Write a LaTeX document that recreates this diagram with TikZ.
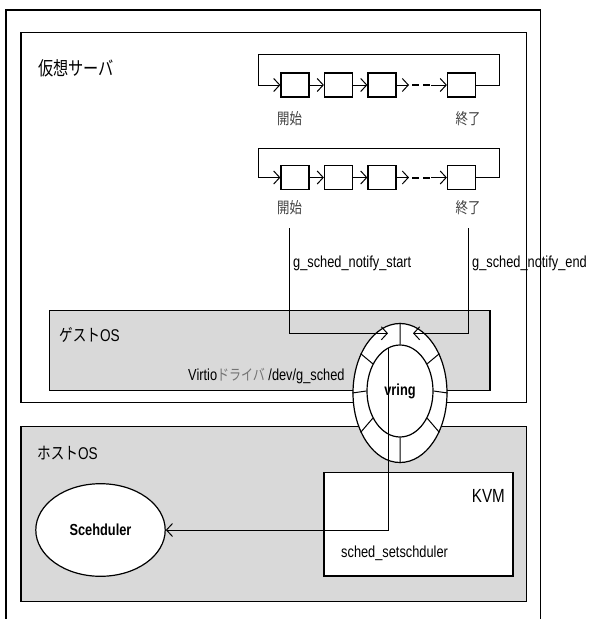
\documentclass[tikz,border=0pt]{standalone}
\usepackage{fontspec}
\setmainfont{Liberation Sans}[FakeStretch=0.8]
\newfontfamily\jpfont{Noto Sans CJK JP}[FakeStretch=0.8]
\definecolor{boxgray}{RGB}{217,217,217}
\usetikzlibrary{arrows.meta, shapes.geometric}

\begin{document}
\begin{tikzpicture}[x=1pt, y=-1pt,
  every node/.style={font=\fontsize{16}{18}\selectfont, inner sep=0pt},
  frame/.style={draw, line width=1.2pt},
  cell/.style={draw, line width=1.2pt, fill=white, minimum width=28pt, minimum height=24pt},
  arr/.style={-{Straight Barb[length=6pt, width=13pt]}, line width=1pt},
  jplbl/.style={font=\jpfont\fontsize{15.5}{18}\selectfont, text=black!75}]
\useasboundingbox (0,0) rectangle (591,619);
\draw[line width=1.5pt] (6,619) |- (540.7,10) -- (540.7,619);
\node[frame, minimum width=505.7pt, minimum height=370.4pt] (server) at (273.85,217.5) {};
\node[frame, fill=boxgray, minimum width=440.7pt, minimum height=80pt] (guest) at (269.65,350.7) {};
\node[frame, fill=boxgray, minimum width=505.7pt, minimum height=175pt] (host) at (273.85,514.2) {};
\node[frame, fill=white, minimum width=189pt, minimum height=103.3pt] (kvm) at (418.5,524.35) {};
\node[anchor=west, font=\jpfont\fontsize{19}{22}\selectfont] (serverlbl) at (38,68) {仮想サーバ};
\node[anchor=west, font=\fontsize{17}{20}\selectfont] (guestlbl) at (59,335) {{\jpfont ゲスト}OS};
\node[anchor=west, font=\fontsize{17}{20}\selectfont] (hostlbl) at (37,453) {{\jpfont ホスト}OS};
\node[anchor=west] (drv) at (188,376) {Virtio{\jpfont\fontsize{15}{18}\selectfont\color{black!55}ドライバ} /dev/g\_sched};
\node[anchor=east, font=\fontsize{19}{22}\selectfont] (kvmlbl) at (505,496) {KVM};
\node[anchor=west] (setsched) at (341,553) {sched\_setschduler};
\node[anchor=west] (nstart) at (293,263) {g\_sched\_notify\_start};
\node[anchor=west] (nend) at (472,263) {g\_sched\_notify\_end};
\node[cell] (a1) at (295,85) {};
\node[cell] (a2) at (338.5,85) {};
\node[cell] (a3) at (382,85) {};
\node[cell] (a4) at (461.5,85) {};
\node[cell] (b1) at (295,177.5) {};
\node[cell] (b2) at (338.5,177.5) {};
\node[cell] (b3) at (382,177.5) {};
\node[cell] (b4) at (461.5,177.5) {};
\node[jplbl] (s1) at (289.5,118.5) {開始};
\node[jplbl] (e1) at (468,118.5) {終了};
\node[jplbl] (s2) at (289.5,208) {開始};
\node[jplbl] (e2) at (468,208) {終了};
\coordinate (aR) at (499,54);
\coordinate (aL) at (258,54);
\coordinate (am) at (409,85);
\coordinate (an) at (431,85);
\coordinate (bR) at (499,148);
\coordinate (bL) at (258,148);
\coordinate (bm) at (409,177.5);
\coordinate (bn) at (431,177.5);
\draw[arr] (a1) -- (a2);
\draw[arr] (a2) -- (a3);
\draw[arr] (a3) -- (am);
\draw[line width=2pt, dash pattern=on 7pt off 4pt, dash phase=-3pt] (am) -- (an);
\draw[arr] (an) -- (a4);
\draw[arr] (a4.east) -| (aR) -- (aL) |- (a1.west);
\draw[arr] (b1) -- (b2);
\draw[arr] (b2) -- (b3);
\draw[arr] (b3) -- (bm);
\draw[line width=2pt, dash pattern=on 7pt off 4pt, dash phase=-3pt] (bm) -- (bn);
\draw[arr] (bn) -- (b4);
\draw[arr] (b4.east) -| (bR) -- (bL) |- (b1.west);
\node[draw, ellipse, line width=1.2pt, fill=white, minimum width=129.4pt, minimum height=92.6pt,
      font=\bfseries\fontsize{16}{18}\selectfont] (sched) at (100.5,530) {Scehduler};
\node[draw, ellipse, line width=1.2pt, fill=white, minimum width=94pt, minimum height=139pt] (vring) at (400,393) {};
\node[draw, ellipse, line width=1.2pt, minimum width=66pt, minimum height=92pt,
      font=\bfseries\fontsize{16}{18}\selectfont] (core) at (400,391) {vring};
\draw[line width=1pt] (vring.0) -- (core.0) (vring.45) -- (core.45) (vring.90) -- (core.90)
  (vring.135) -- (core.135) (vring.180) -- (core.180) (vring.225) -- (core.225)
  (vring.270) -- (core.270) (vring.315) -- (core.315);
\coordinate (ta) at (388,333.3);
\coordinate (tb) at (413,333.3);
\coordinate (vq) at (388,348);
\draw[arr] ([yshift=-13pt]s2.south) |- (ta);
\draw[arr] ([yshift=-13pt]e2.south) |- (tb);
\draw[arr] (vq) |- (sched.east);
\end{tikzpicture}
\end{document}
